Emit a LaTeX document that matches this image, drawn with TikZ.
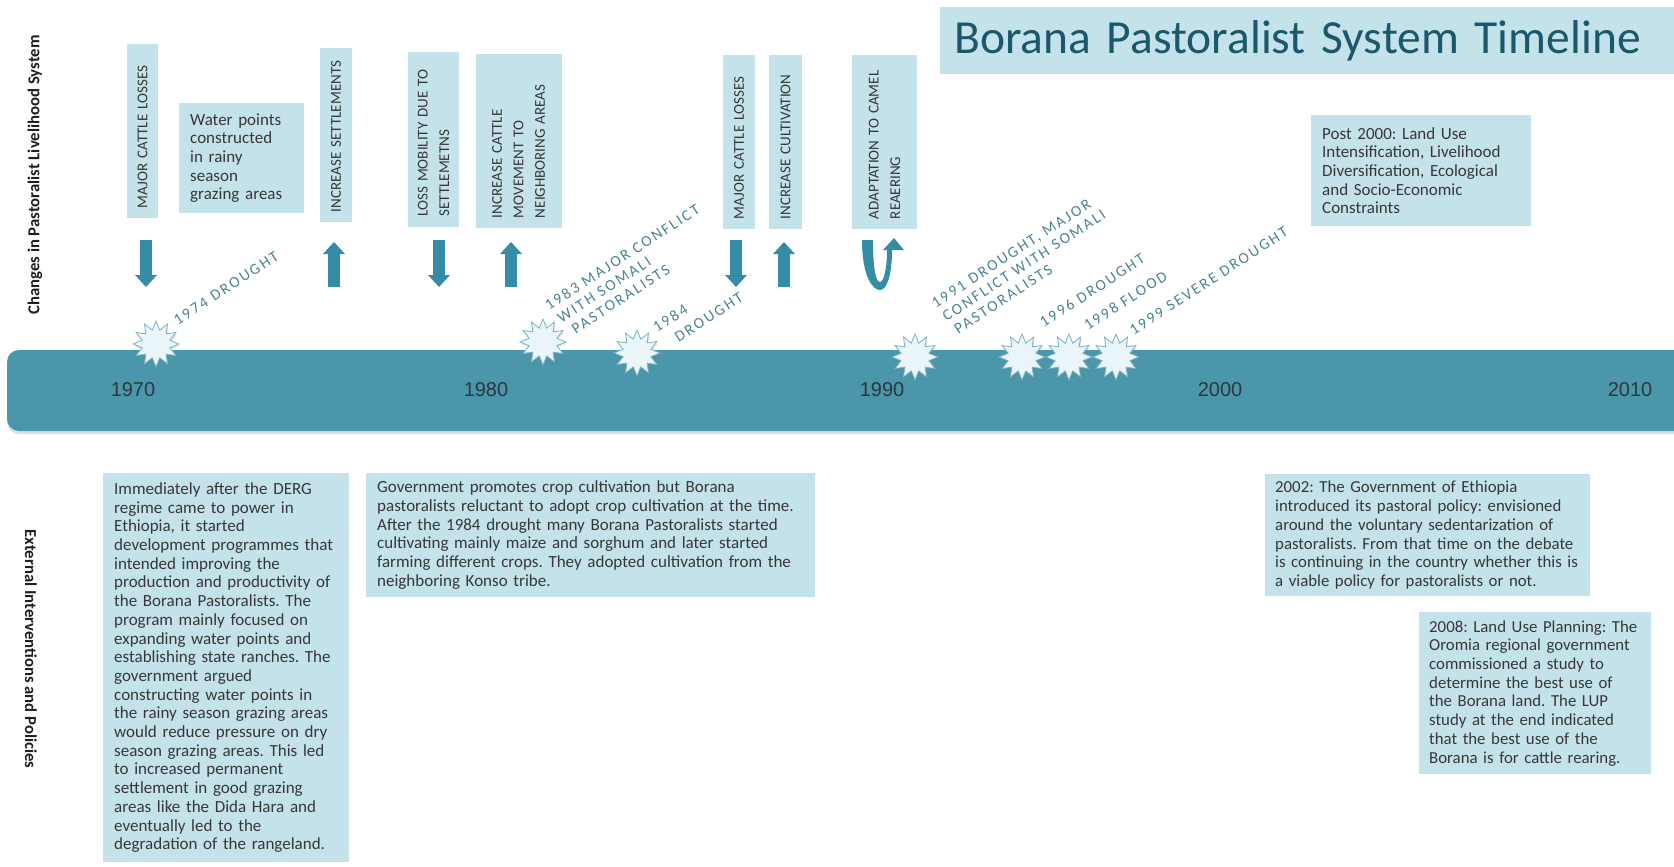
\documentclass[tikz,border=0pt]{standalone}
\usepackage{fontspec}
\setmainfont{Carlito}
\newfontfamily\yearfont{Liberation Sans}
\newfontfamily\eventfont[LetterSpace=14]{Carlito}
\usetikzlibrary{shapes.geometric,arrows.meta,shadows}
\frenchspacing

\definecolor{barteal}{RGB}{74,150,171}
\definecolor{arrowteal}{RGB}{55,140,165}
\definecolor{boxblue}{RGB}{195,226,234}
\definecolor{titleteal}{RGB}{28,88,108}
\definecolor{eventteal}{RGB}{75,130,150}
\definecolor{bodygray}{RGB}{55,55,55}
\definecolor{yeargray}{RGB}{45,55,60}
\definecolor{sidegray}{RGB}{30,30,30}
\definecolor{starfill}{RGB}{233,245,249}
\definecolor{starline}{RGB}{120,178,196}

\tikzset{
    vbox/.style={rotate=90, fill=boxblue, text=bodygray, font=\fontsize{15}{21.5}\selectfont,
        align=left, text width=154pt, inner xsep=10pt, inner ysep=0pt},
    infobox/.style={anchor=north west, fill=boxblue, text=bodygray, font=\fontsize{17}{18.7}\selectfont,
        align=left, inner xsep=11pt, inner ysep=4pt},
    blockarrow/.style={draw=arrowteal, line width=12pt,
        -{Triangle[width=22pt,length=12pt,line width=0pt]}},
    burst/.style={star, star points=12, star point ratio=1.6, minimum size=46pt, inner sep=0pt,
        fill=starfill, draw=starline, line width=0.8pt,
        drop shadow={opacity=0.2, shadow xshift=1pt, shadow yshift=-2pt}},
    eventlabel/.style={anchor=north west, rotate=33, inner sep=0pt, text=eventteal,
        font=\eventfont\fontsize{15.5}{17}\selectfont, align=left},
    yearlabel/.style={text=yeargray, font=\yearfont\fontsize{20}{24}\selectfont},
    sidelabel/.style={text=sidegray, font=\bfseries\fontsize{16.7}{20}\selectfont}
}

\begin{document}
\begin{tikzpicture}[x=1pt, y=-1pt]
        \useasboundingbox (0,0) rectangle (1674,867);

        % Title
        \node (title) [anchor=north west, fill=boxblue, text=titleteal, text width=720pt,
            minimum height=67pt, inner xsep=14pt, align=left, font=\fontsize{47.5}{52}\selectfont]
            at (940,7) {Borana Pastoralist System Timeline};

        % Side labels
        \node (livelihood) [sidelabel, rotate=90] at (35,175) {Changes in Pastoralist Livelihood System};
        \node (interventions) [sidelabel, rotate=-90] at (31,649) {External Interventions and Policies};

        % Timeline bar
        \fill[barteal, rounded corners=12pt, drop shadow={opacity=0.25, shadow xshift=0pt, shadow yshift=-3pt}]
            (7,350) rectangle (1700,431);

        % Years
        \node (y1970) [yearlabel] at (133,390) {1970};
        \node (y1980) [yearlabel] at (486,390) {1980};
        \node (y1990) [yearlabel] at (882,390) {1990};
        \node (y2000) [yearlabel] at (1220,390) {2000};
        \node (y2010) [yearlabel] at (1630,390) {2010};

        % Changes in the livelihood system
        \node (loss1) [vbox, minimum height=31pt] at (142.5,131) {MAJOR CATTLE LOSSES};
        \node (water) [infobox, text width=103pt, minimum height=110pt] at (179,103)
            {Water points\\constructed\\in rainy\\season\\grazing areas};
        \node (settle) [vbox, minimum height=32pt] at (336,135) {INCREASE SETTLEMENTS};
        \node (mobility) [vbox, minimum height=51pt] at (433.5,139.5) {LOSS MOBILITY DUE TO\\SETTLEMETNS};
        \node (movement) [vbox, minimum height=86pt] at (518.5,141)
            {INCREASE CATTLE\\MOVEMENT TO\\NEIGHBORING AREAS};
        \node (loss2) [vbox, minimum height=32pt] at (739,142) {MAJOR CATTLE LOSSES};
        \node (cultiv) [vbox, minimum height=33pt] at (785.5,142) {INCREASE CULTIVATION};
        \node (camel) [vbox, minimum height=65pt] at (884.5,142) {ADAPTATION TO CAMEL\\REAERING};
        \node (post) [infobox, text width=198pt, minimum height=111pt] at (1311,115)
            {Post 2000: Land Use\\Intensification, Livelihood\\Diversification, Ecological\\and Socio-Economic\\Constraints};

        % Trend arrows
        \draw[blockarrow] (146,240) -- (146,287);
        \draw[blockarrow] (334,287) -- (334,242);
        \draw[blockarrow] (439,240) -- (439,287);
        \draw[blockarrow] (511,287) -- (511,242);
        \draw[blockarrow] (736,240) -- (736,287);
        \draw[blockarrow] (784,287) -- (784,242);
        \fill[arrowteal] (862,240) .. controls (862,275) and (872,290) .. (880,290)
            .. controls (887,290) and (892,275) .. (892,250) -- (904,250) -- (894,238) -- (883,250)
            -- (887,250) .. controls (887,272) and (883,282) .. (880,282)
            .. controls (876,282) and (873,270) .. (873,240) -- cycle;

        % Events
        \node (s1974) [burst] at (156,344) {};
        \node (s1983) [burst] at (543,342) {};
        \node (s1984) [burst] at (637,353) {};
        \node (s1991) [burst] at (915,357) {};
        \node (s1996) [burst] at (1022,357) {};
        \node (s1998) [burst] at (1069,357) {};
        \node (s1999) [burst] at (1116,357) {};
        \node (e1974) [eventlabel] at (172,317) {1974 DROUGHT};
        \node (e1983) [eventlabel] at (543,302)
            {1983 MAJOR CONFLICT\\\hspace*{4pt}WITH SOMALI\\\hspace*{10pt}PASTORALISTS};
        \node (e1984) [eventlabel] at (651,324) {1984\\[3pt]\hspace*{13pt}DROUGHT};
        \node (e1991) [eventlabel] at (930,300)
            {1991 DROUGHT, MAJOR\\\hspace*{2pt}CONFLICT WITH SOMALI\\\hspace*{5pt}PASTORALISTS};
        \node (e1996) [eventlabel] at (1038,319) {1996 DROUGHT};
        \node (e1998) [eventlabel] at (1082,322) {1998 FLOOD};
        \node (e1999) [eventlabel] at (1128,327) {1999 SEVERE DROUGHT};

        % External interventions and policies
        \node (derg) [infobox, text width=224pt, minimum height=389pt] at (103,473)
            {Immediately after the DERG\\regime came to power in\\Ethiopia, it started\\development programmes that\\intended improving the\\production and productivity of\\the Borana Pastoralists. The\\program mainly focused on\\expanding water points and\\establishing state ranches. The\\government argued\\constructing water points in\\the rainy season grazing areas\\would reduce pressure on dry\\season grazing areas. This led\\to increased permanent\\settlement in good grazing\\areas like the Dida Hara and\\eventually led to the\\degradation of the rangeland.};
        \node (crop) [infobox, text width=427pt, minimum height=124pt] at (366,473)
            {Government promotes crop cultivation but Borana\\pastoralists reluctant to adopt crop cultivation at the time.\\After the 1984 drought many Borana Pastoralists started\\cultivating mainly maize and sorghum and later started\\farming different crops. They adopted cultivation from the\\neighboring Konso tribe.};
        \node (policy) [infobox, text width=305pt, minimum height=122pt, inner xsep=10pt,
            font=\fontsize{16.8}{18.7}\selectfont] at (1265,474)
            {2002: The Government of Ethiopia\\introduced its pastoral policy: envisioned\\around the voluntary sedentarization of\\pastoralists. From that time on the debate\\is continuing in the country whether this is\\a viable policy for pastoralists or not.};
        \node (lup) [infobox, text width=212pt, minimum height=162pt, inner xsep=10pt,
            font=\fontsize{16.8}{18.7}\selectfont] at (1419,612)
            {2008: Land Use Planning: The\\Oromia regional government\\commissioned a study to\\determine the best use of\\the Borana land. The LUP\\study at the end indicated\\that the best use of the\\Borana is for cattle rearing.};
\end{tikzpicture}
\end{document}
